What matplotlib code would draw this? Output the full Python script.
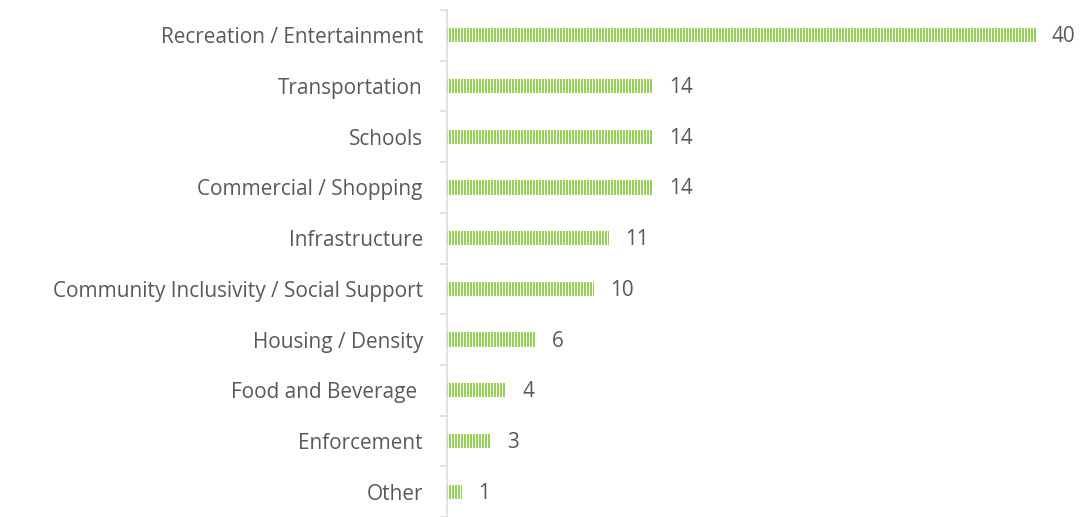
import numpy as np
import matplotlib.pyplot as plt

plt.rcParams['font.family'] = ['Open Sans', 'DejaVu Sans']
plt.rcParams['hatch.linewidth'] = 0.7

categories = ['Recreation / Entertainment', 'Transportation', 'Schools',
              'Commercial / Shopping', 'Infrastructure',
              'Community Inclusivity / Social Support', 'Housing / Density',
              'Food and Beverage ', 'Enforcement', 'Other']
counts = [40, 14, 14, 14, 11, 10, 6, 4, 3, 1]

GREEN = '#92d050'
TEXT = '#595959'
DPI = 108  # 36 hatch lines per inch -> 3 px stripe period

fig = plt.figure(figsize=(1080 / DPI, 517 / DPI), dpi=DPI)
ax = fig.add_axes([447 / 1080, 0.0, 1 - 447 / 1080 - 0.005, 1 - 10 / 517])

y = np.arange(len(categories))
# striped bars: green fill with white vertical hatch lines
ax.barh(y, counts, height=0.28, color=GREEN, edgecolor='white', linewidth=0,
        hatch='||||||')

for yi, v in zip(y, counts):
    ax.text(v + 1.1, yi + 0.03, str(v), va='center', ha='left', fontsize=13.8, color=TEXT)

ax.set_ylim(9.47, -0.5)
ax.set_xlim(0, 42.65)
ax.set_yticks(y)
ax.set_yticklabels(categories, fontsize=13.8, color=TEXT)
ax.set_yticks(np.arange(len(categories) + 1) - 0.5, minor=True)
ax.tick_params(axis='y', which='major', length=0, pad=16)
ax.tick_params(axis='y', which='minor', length=5, color='#d9d9d9', width=1)
ax.set_xticks([])

for s in ['top', 'right', 'bottom']:
    ax.spines[s].set_visible(False)
ax.spines['left'].set_color('#d9d9d9')
ax.spines['left'].set_linewidth(1.0)

fig.savefig('out.png', dpi=DPI)
